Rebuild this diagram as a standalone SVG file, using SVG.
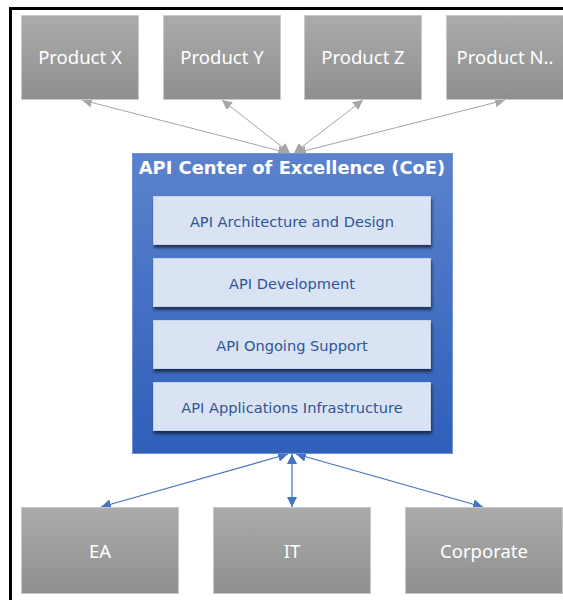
<svg xmlns="http://www.w3.org/2000/svg" width="563" height="600" viewBox="0 0 563 600">
<defs>
<linearGradient id="gGray" x1="0" y1="0" x2="0" y2="1">
<stop offset="0" stop-color="#ababab"/>
<stop offset="1" stop-color="#8f8f8f"/>
</linearGradient>
<linearGradient id="gBlue" x1="0" y1="0" x2="0" y2="1">
<stop offset="0" stop-color="#5b82cd"/>
<stop offset="1" stop-color="#2f5fb9"/>
</linearGradient>
<filter id="sh" x="-10%" y="-20%" width="120%" height="150%">
<feGaussianBlur in="SourceAlpha" stdDeviation="1.5"/>
<feOffset dx="1" dy="2.5" result="b"/>
<feComponentTransfer><feFuncA type="linear" slope="0.55"/></feComponentTransfer>
<feMerge><feMergeNode/><feMergeNode in="SourceGraphic"/></feMerge>
</filter>
<marker id="mGray" viewBox="0 0 10 10" refX="10" refY="5" markerWidth="10" markerHeight="10" markerUnits="userSpaceOnUse" orient="auto-start-reverse">
<path d="M0,0 L10,5 L0,10 z" fill="#a6a6a6"/>
</marker>
<marker id="mBlue" viewBox="0 0 10 10" refX="10" refY="5" markerWidth="10" markerHeight="10" markerUnits="userSpaceOnUse" orient="auto-start-reverse">
<path d="M0,0 L10,5 L0,10 z" fill="#4472c4"/>
</marker>
</defs>
<style>
.gray rect{fill:url(#gGray);stroke:#c9c9c9;stroke-width:1}
.gray text{fill:#ffffff;font-family:"Noto Sans","Open Sans",sans-serif;font-size:18.5px;text-anchor:middle;dominant-baseline:central}
.inner rect{fill:#dae3f3;stroke:#c5d2ea;stroke-width:1}
.inner text{fill:#2f5597;font-family:"DejaVu Sans",Verdana,sans-serif;font-size:14.6px;text-anchor:middle;dominant-baseline:central}
.cg{stroke:#a6a6a6;stroke-width:1;fill:none}
.cb{stroke:#4472c4;stroke-width:1.2;fill:none}
</style>
<rect x="0" y="0" width="563" height="600" fill="#ffffff"/>
<path d="M10.5,600 V8.5 H563" fill="none" stroke="#000000" stroke-width="3"/>

<g id="connectors">
<line class="cg" x1="288" y1="153" x2="82" y2="100" marker-start="url(#mGray)" marker-end="url(#mGray)"/>
<line class="cg" x1="290" y1="153" x2="222" y2="100" marker-start="url(#mGray)" marker-end="url(#mGray)"/>
<line class="cg" x1="294" y1="153" x2="363" y2="100" marker-start="url(#mGray)" marker-end="url(#mGray)"/>
<line class="cg" x1="296" y1="153" x2="505" y2="100" marker-start="url(#mGray)" marker-end="url(#mGray)"/>
<line class="cb" x1="288" y1="454" x2="101" y2="507" marker-start="url(#mBlue)" marker-end="url(#mBlue)"/>
<line class="cb" x1="292" y1="454" x2="292" y2="507" marker-start="url(#mBlue)" marker-end="url(#mBlue)"/>
<line class="cb" x1="296" y1="454" x2="483" y2="507" marker-start="url(#mBlue)" marker-end="url(#mBlue)"/>
</g>

<g id="productX" class="gray"><rect x="21.5" y="15.5" width="117" height="84"/><text x="80" y="56.5">Product X</text></g>
<g id="productY" class="gray"><rect x="163.5" y="15.5" width="117" height="84"/><text x="222" y="56.5">Product Y</text></g>
<g id="productZ" class="gray"><rect x="304.5" y="15.5" width="117" height="84"/><text x="363" y="56.5">Product Z</text></g>
<g id="productN" class="gray"><rect x="446.5" y="15.5" width="117" height="84"/><text x="505" y="56.5">Product N..</text></g>

<g id="coe">
<rect x="132.5" y="153.5" width="320" height="300" fill="url(#gBlue)" stroke="#6f93d6" stroke-width="1"/>
<text x="292" y="167.5" fill="#ffffff" font-family="DejaVu Sans,Verdana,sans-serif" font-size="17.9" font-weight="bold" text-anchor="middle" dominant-baseline="central">API Center of Excellence (CoE)</text>
</g>
<g id="archDesign" class="inner"><rect x="153.5" y="196.5" width="277" height="48" filter="url(#sh)"/><text x="292" y="221">API Architecture and Design</text></g>
<g id="development" class="inner"><rect x="153.5" y="258.5" width="277" height="48" filter="url(#sh)"/><text x="292" y="283">API Development</text></g>
<g id="support" class="inner"><rect x="153.5" y="320.5" width="277" height="48" filter="url(#sh)"/><text x="292" y="345">API Ongoing Support</text></g>
<g id="infra" class="inner"><rect x="153.5" y="382.5" width="277" height="48" filter="url(#sh)"/><text x="292" y="407">API Applications Infrastructure</text></g>

<g id="ea" class="gray"><rect x="21.5" y="507.5" width="157" height="86"/><text x="100" y="550.5">EA</text></g>
<g id="it" class="gray"><rect x="213.5" y="507.5" width="157" height="86"/><text x="292" y="550.5">IT</text></g>
<g id="corporate" class="gray"><rect x="405.5" y="507.5" width="157" height="86"/><text x="484" y="550.5">Corporate</text></g>
</svg>
